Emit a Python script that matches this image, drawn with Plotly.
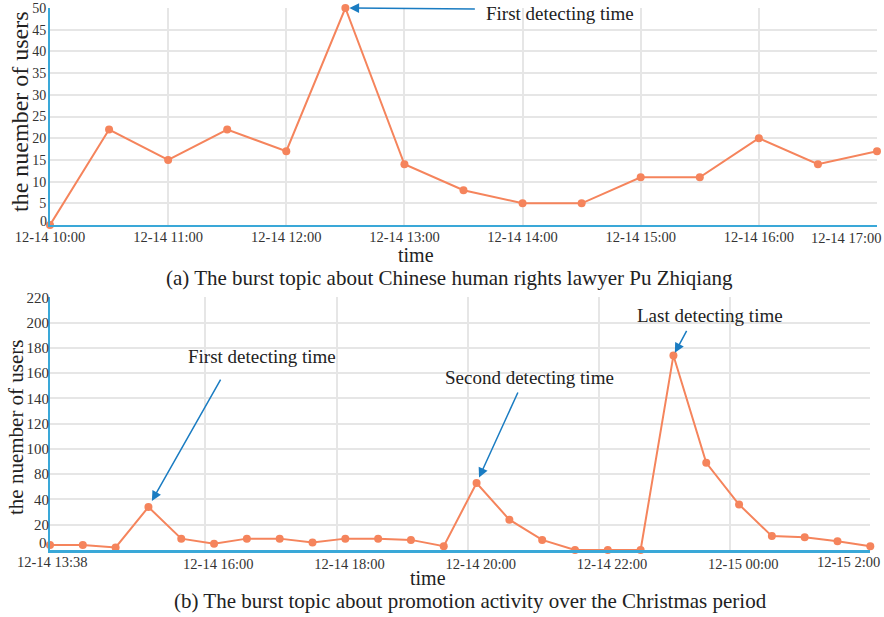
import plotly.graph_objects as go

W, H = 884, 617

# ---------------- data: (a) Pu Zhiqiang topic ----------------
times_a = ["2015-12-14 10:00", "2015-12-14 10:30", "2015-12-14 11:00", "2015-12-14 11:30",
           "2015-12-14 12:00", "2015-12-14 12:30", "2015-12-14 13:00", "2015-12-14 13:30",
           "2015-12-14 14:00", "2015-12-14 14:30", "2015-12-14 15:00", "2015-12-14 15:30",
           "2015-12-14 16:00", "2015-12-14 16:30", "2015-12-14 17:00"]
users_a = [0, 22, 15, 22, 17, 50, 14, 8, 5, 5, 11, 11, 20, 14, 17]
xtick_vals_a = ["2015-12-14 10:00", "2015-12-14 11:00", "2015-12-14 12:00", "2015-12-14 13:00",
                "2015-12-14 14:00", "2015-12-14 15:00", "2015-12-14 16:00", "2015-12-14 17:00"]
xtick_text_a = ["12-14 10:00", "12-14 11:00", "12-14 12:00", "12-14 13:00",
                "12-14 14:00", "12-14 15:00", "12-14 16:00", "12-14 17:00"]
ytick_vals_a = [5, 10, 15, 20, 25, 30, 35, 40, 45, 50]
ytick_text_a = ["5", "10", "15", "20", "25", "30", "35", "40", "45", "50"]

# ---------------- data: (b) Christmas promotion topic ----------------
times_b = ["2015-12-14 13:38", "2015-12-14 14:08", "2015-12-14 14:38", "2015-12-14 15:08",
           "2015-12-14 15:38", "2015-12-14 16:08", "2015-12-14 16:38", "2015-12-14 17:08",
           "2015-12-14 17:38", "2015-12-14 18:08", "2015-12-14 18:38", "2015-12-14 19:08",
           "2015-12-14 19:38", "2015-12-14 20:08", "2015-12-14 20:38", "2015-12-14 21:08",
           "2015-12-14 21:38", "2015-12-14 22:08", "2015-12-14 22:38", "2015-12-14 23:08",
           "2015-12-14 23:38", "2015-12-15 00:08", "2015-12-15 00:38", "2015-12-15 01:08",
           "2015-12-15 01:38", "2015-12-15 02:08"]
users_b = [4, 4, 2, 34, 9, 5, 9, 9, 6, 9, 9, 8, 3, 53, 24, 8, 0, 0, 0, 154, 69, 36, 11, 10, 7, 3]
xtick_vals_b = ["2015-12-14 13:38", "2015-12-14 16:00", "2015-12-14 18:00", "2015-12-14 20:00",
                "2015-12-14 22:00", "2015-12-15 00:00", "2015-12-15 02:08"]
xtick_text_b = ["12-14 13:38", "12-14 16:00", "12-14 18:00", "12-14 20:00",
                "12-14 22:00", "12-15 00:00", "12-15 2:00"]
ytick_vals_b = [20, 40, 60, 80, 100, 120, 140, 160, 180, 200]
ytick_text_b = ["20", "40", "80", "100", "120", "140", "160", "180", "200", "220"]

captions = ["(a) The burst topic about Chinese human rights lawyer Pu Zhiqiang",
            "(b) The burst topic about promotion activity over the Christmas period"]
y_title = "the nuember of users"
x_title = "time"

# ---------------- style ----------------
FONT = "Liberation Serif"
LINE = "#f5845c"
AXIS = "#3aa8d8"
GRID = "#e6e6e6"
ARROW = "#1a7cc2"
TXT = "#222222"
TICK = "#333333"


def px(x):
    return x / W


def py(y):
    return 1 - y / H


fig = go.Figure()
fig.add_trace(go.Scatter(x=times_a, y=users_a, mode="lines+markers", xaxis="x", yaxis="y",
                         line=dict(color=LINE, width=2), marker=dict(color=LINE, size=8),
                         cliponaxis=False, showlegend=False, hoverinfo="skip"))
fig.add_trace(go.Scatter(x=times_b, y=users_b, mode="lines+markers", xaxis="x2", yaxis="y2",
                         line=dict(color=LINE, width=2), marker=dict(color=LINE, size=8),
                         cliponaxis=False, showlegend=False, hoverinfo="skip"))

tickfont_x = dict(family=FONT, size=14.5, color=TICK)
common = dict(automargin=False, ticks="", zeroline=False, showgrid=True,
              gridcolor=GRID, gridwidth=2, showline=True, linecolor=AXIS)

fig.update_layout(
    width=W, height=H, margin=dict(l=0, r=0, t=0, b=0, autoexpand=False),
    paper_bgcolor="white", plot_bgcolor="white",
    font=dict(family=FONT, color=TXT),
    xaxis=dict(domain=[px(50), px(877)], anchor="y", type="date",
               range=[times_a[0], times_a[-1]],
               tickvals=xtick_vals_a, ticktext=xtick_text_a[:-1] + [""],
               ticklabelstandoff=-2,
               tickfont=tickfont_x, linewidth=2, **common),
    yaxis=dict(domain=[py(225), py(8)], anchor="x", range=[0, 50],
               tickvals=ytick_vals_a, ticktext=ytick_text_a, ticklabelstandoff=-1,
               tickfont=dict(family=FONT, size=14, color=TICK), linewidth=2, **common),
    xaxis2=dict(domain=[px(50), px(870.3)], anchor="y2", type="date",
                range=[times_b[0], times_b[-1]],
                tickvals=xtick_vals_b, ticktext=[""] + xtick_text_b[1:-1] + [""],
                ticklabelshift=13, ticklabelstandoff=-1,
                tickfont=tickfont_x, linewidth=3, **common),
    yaxis2=dict(domain=[py(550), py(297.3)], anchor="x2", range=[0, 200],
                tickvals=ytick_vals_b, ticktext=ytick_text_b, ticklabelstandoff=-4,
                tickfont=dict(family=FONT, size=15, color=TICK), linewidth=2, **common),
)

ann = []
# end tick labels
ann.append(dict(x=times_a[-1], xref="x", y=0, yref="y", text=xtick_text_a[-1], showarrow=False,
                xanchor="right", yanchor="top", xshift=6, yshift=-3, font=tickfont_x))
ann.append(dict(x=times_b[0], xref="x2", y=0, yref="y2", text=xtick_text_b[0], showarrow=False,
                xanchor="center", yanchor="top", xshift=2, yshift=-2, font=tickfont_x))
ann.append(dict(x=times_b[-1], xref="x2", y=0, yref="y2", text=xtick_text_b[-1], showarrow=False,
                xanchor="right", yanchor="top", xshift=12, yshift=-2, font=tickfont_x))
# zero labels on y axes
ann.append(dict(x=px(50), xref="paper", y=0.9, yref="y", text="0", showarrow=False,
                xanchor="right", yanchor="middle", xshift=-1, font=dict(family=FONT, size=14, color=TICK)))
ann.append(dict(x=px(50), xref="paper", y=5.3, yref="y2", text="0", showarrow=False,
                xanchor="right", yanchor="middle", xshift=-1, font=dict(family=FONT, size=15, color=TICK)))

# axis titles
for ytitle_c, fs in [((20, 112), 24), ((16, 427), 21)]:
    ann.append(dict(x=px(ytitle_c[0]), y=py(ytitle_c[1]), xref="paper", yref="paper",
                    text=y_title, textangle=-90, showarrow=False, xanchor="center", yanchor="middle",
                    font=dict(family=FONT, size=fs, color=TXT)))
for xtitle_c in [(416, 255), (428, 578)]:
    ann.append(dict(x=px(xtitle_c[0]), y=py(xtitle_c[1]), xref="paper", yref="paper",
                    text=x_title, showarrow=False, xanchor="center", yanchor="middle", borderpad=0,
                    font=dict(family=FONT, size=20, color=TXT)))
# captions
for cap, c in zip(captions, [(449, 278), (470, 601)]):
    ann.append(dict(x=px(c[0]), y=py(c[1]), xref="paper", yref="paper", text=cap,
                    showarrow=False, xanchor="center", yanchor="middle", borderpad=0,
                    font=dict(family=FONT, size=21, color=TXT)))

# detection arrows (head at the data point)
arrows = [
    ("x", "y", times_a[5], users_a[5], 131, 1, 4),
    ("x2", "y2", times_b[3], users_b[3], 73, -129, 7),
    ("x2", "y2", times_b[13], users_b[13], 42, -92, 6),
    ("x2", "y2", times_b[19], users_b[19], 14, -26, 3),
]
for xr, yr, xv, yv, ax, ay, so in arrows:
    ann.append(dict(x=xv, y=yv, xref=xr, yref=yr, text="", showarrow=True, ax=ax, ay=ay,
                    axref="pixel", ayref="pixel", arrowcolor=ARROW, arrowwidth=1.5,
                    arrowhead=2, arrowsize=1.3, standoff=so))

labels = [("First detecting time", 484, 13, "left"),
          ("First detecting time", 262, 356, "center"),
          ("Second detecting time", 529, 377, "center"),
          ("Last detecting time", 710, 315, "center")]
for t, x, y, xa in labels:
    ann.append(dict(x=px(x), y=py(y), xref="paper", yref="paper", text=t, showarrow=False,
                    xanchor=xa, yanchor="middle", font=dict(family=FONT, size=19, color=TXT)))

fig.update_layout(annotations=ann)
fig.write_html("out.html", config={"displayModeBar": False, "staticPlot": True},
               post_script="document.body.style.margin='0';document.body.style.overflow='hidden';")
